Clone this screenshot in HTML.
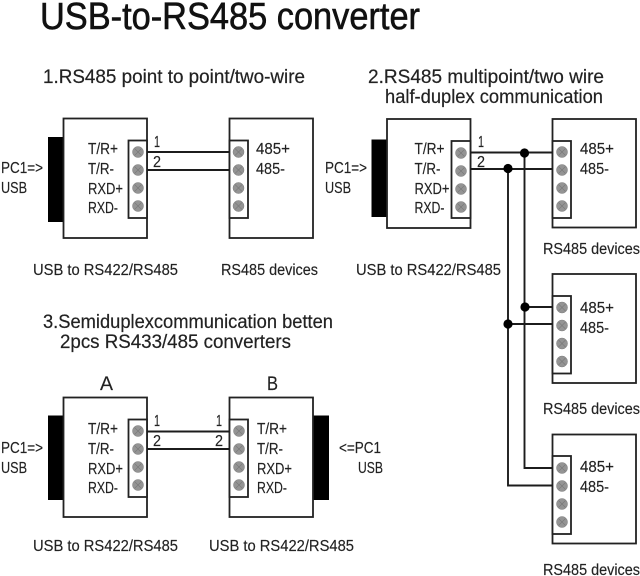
<!DOCTYPE html>
<html><head><meta charset="utf-8"><style>
html,body{margin:0;padding:0;background:#fff}
svg{display:block}
text{font-family:"Liberation Sans",sans-serif;font-size:15.5px;fill:#222;stroke:#222;stroke-width:.15}
.h{font-size:19px;stroke-width:.2}
.t{font-size:38px;fill:#111;stroke:#111;stroke-width:.6}
.b{fill:#fff;stroke:#222;stroke-width:1.8}
.w{fill:none;stroke:#1c1c1c;stroke-width:1.9}
.s{fill:#949494;stroke:#808080;stroke-width:.5}
.x{stroke:#777;stroke-width:.6}
</style></head><body>
<svg width="640" height="576" viewBox="0 0 640 576" xmlns="http://www.w3.org/2000/svg">
<defs>
<g id="sc"><circle class="s" r="5.5"/><path class="x" d="M-3.5-3.5L3.5 3.5M-3.5 3.5L3.5-3.5"/></g>
<g id="ts"><use href="#sc" y="0"/><use href="#sc" y="18"/><use href="#sc" y="36"/><use href="#sc" y="54"/></g>
</defs>
<rect width="640" height="576" fill="#fff"/>
<text class="t" x="40" y="29" textLength="380" lengthAdjust="spacingAndGlyphs">USB-to-RS485 converter</text>
<text class="h" x="43" y="83" textLength="262" lengthAdjust="spacingAndGlyphs">1.RS485 point to point/two-wire</text>
<text class="h" x="368" y="83" textLength="236" lengthAdjust="spacingAndGlyphs">2.RS485 multipoint/two wire</text>
<text class="h" x="385" y="103" textLength="218" lengthAdjust="spacingAndGlyphs">half-duplex communication</text>
<text class="h" x="43" y="328" textLength="290" lengthAdjust="spacingAndGlyphs">3.Semiduplexcommunication betten</text>
<text class="h" x="60" y="348" textLength="231" lengthAdjust="spacingAndGlyphs">2pcs RS433/485 converters</text>

<!-- Diagram 1 -->
<rect x="48" y="137" width="15.5" height="85" fill="#000"/>
<rect class="b" x="63.5" y="118.5" width="83.5" height="119.5"/>
<rect class="b" x="128.5" y="140.5" width="18.5" height="77.5"/>
<use href="#ts" x="138" y="152"/>
<rect class="b" x="229.5" y="118.5" width="83.5" height="119.5"/>
<rect class="b" x="229.5" y="140.5" width="18.5" height="77.5"/>
<use href="#ts" x="238.5" y="152"/>
<path class="w" d="M147 152H229.5M147 170H229.5"/>
<text x="1" y="173" textLength="42" lengthAdjust="spacingAndGlyphs">PC1=&gt;</text>
<text x="1" y="193" textLength="26" lengthAdjust="spacingAndGlyphs">USB</text>
<text x="88" y="154" textLength="30" lengthAdjust="spacingAndGlyphs">T/R+</text>
<text x="88" y="174" textLength="26" lengthAdjust="spacingAndGlyphs">T/R-</text>
<text x="88" y="194" textLength="35" lengthAdjust="spacingAndGlyphs">RXD+</text>
<text x="88" y="213" textLength="30" lengthAdjust="spacingAndGlyphs">RXD-</text>
<text x="154" y="147" textLength="6" lengthAdjust="spacingAndGlyphs">1</text>
<text x="153" y="167" textLength="8" lengthAdjust="spacingAndGlyphs">2</text>
<text x="256" y="154" textLength="34" lengthAdjust="spacingAndGlyphs">485+</text>
<text x="256" y="174" textLength="29" lengthAdjust="spacingAndGlyphs">485-</text>
<text x="33" y="275" textLength="145" lengthAdjust="spacingAndGlyphs">USB to RS422/RS485</text>
<text x="221" y="275" textLength="97" lengthAdjust="spacingAndGlyphs">RS485 devices</text>

<!-- Diagram 2 -->
<rect x="371.5" y="139.5" width="15.5" height="77.5" fill="#000"/>
<rect class="b" x="387" y="119" width="83.5" height="109"/>
<rect class="b" x="451.5" y="141" width="19" height="77"/>
<use href="#ts" x="461" y="153"/>
<rect class="b" x="552.5" y="119" width="83.5" height="108.5"/>
<rect class="b" x="552.5" y="141" width="18.5" height="77"/>
<use href="#ts" x="562" y="152"/>
<rect class="b" x="552.5" y="274" width="83.5" height="109"/>
<rect class="b" x="552.5" y="296" width="18.5" height="77.5"/>
<use href="#ts" x="562" y="307.5"/>
<rect class="b" x="552.5" y="434.5" width="83.5" height="109"/>
<rect class="b" x="552.5" y="456" width="18.5" height="78"/>
<use href="#ts" x="562" y="468"/>
<path class="w" d="M470.5 152.5H552.5M470.5 169H552.5M524.5 152.5V468H552.5M508 169V485.5H552.5M524.5 307H552.5M508 324H552.5"/>
<circle cx="524.5" cy="153" r="4.6" fill="#000"/>
<circle cx="508" cy="168.5" r="4.6" fill="#000"/>
<circle cx="525" cy="307" r="4.6" fill="#000"/>
<circle cx="508" cy="324" r="4.6" fill="#000"/>
<text x="325" y="173" textLength="42" lengthAdjust="spacingAndGlyphs">PC1=&gt;</text>
<text x="325" y="193" textLength="26" lengthAdjust="spacingAndGlyphs">USB</text>
<text x="414.5" y="154" textLength="30" lengthAdjust="spacingAndGlyphs">T/R+</text>
<text x="414.5" y="174" textLength="26" lengthAdjust="spacingAndGlyphs">T/R-</text>
<text x="414.5" y="194" textLength="35" lengthAdjust="spacingAndGlyphs">RXD+</text>
<text x="414.5" y="213" textLength="30" lengthAdjust="spacingAndGlyphs">RXD-</text>
<text x="478" y="147" textLength="6" lengthAdjust="spacingAndGlyphs">1</text>
<text x="477" y="167" textLength="8" lengthAdjust="spacingAndGlyphs">2</text>
<text x="580" y="154" textLength="34" lengthAdjust="spacingAndGlyphs">485+</text>
<text x="580" y="174" textLength="29" lengthAdjust="spacingAndGlyphs">485-</text>
<text x="580" y="313" textLength="34" lengthAdjust="spacingAndGlyphs">485+</text>
<text x="580" y="333" textLength="29" lengthAdjust="spacingAndGlyphs">485-</text>
<text x="580" y="472" textLength="34" lengthAdjust="spacingAndGlyphs">485+</text>
<text x="580" y="492" textLength="29" lengthAdjust="spacingAndGlyphs">485-</text>
<text x="356" y="275" textLength="145" lengthAdjust="spacingAndGlyphs">USB to RS422/RS485</text>
<text x="543" y="254" textLength="97" lengthAdjust="spacingAndGlyphs">RS485 devices</text>
<text x="543" y="414" textLength="97" lengthAdjust="spacingAndGlyphs">RS485 devices</text>
<text x="543" y="575" textLength="97" lengthAdjust="spacingAndGlyphs">RS485 devices</text>

<!-- Diagram 3 -->
<rect x="48" y="415.5" width="15.5" height="84.5" fill="#000"/>
<rect class="b" x="63.5" y="397.5" width="83.5" height="119.5"/>
<rect class="b" x="128.5" y="419.5" width="18.5" height="77.5"/>
<use href="#ts" x="138" y="431"/>
<rect x="313" y="415.5" width="16" height="84.5" fill="#000"/>
<rect class="b" x="229.5" y="397.5" width="83.5" height="119.5"/>
<rect class="b" x="229.5" y="419.5" width="18.5" height="77.5"/>
<use href="#ts" x="239" y="431"/>
<path class="w" d="M147 431.5H229.5M147 449H229.5"/>
<text x="100" y="390" style="font-size:19px" textLength="13" lengthAdjust="spacingAndGlyphs">A</text>
<text x="267" y="390" style="font-size:19px" textLength="11" lengthAdjust="spacingAndGlyphs">B</text>
<text x="1" y="453" textLength="42" lengthAdjust="spacingAndGlyphs">PC1=&gt;</text>
<text x="1" y="473" textLength="26" lengthAdjust="spacingAndGlyphs">USB</text>
<text x="88" y="434" textLength="30" lengthAdjust="spacingAndGlyphs">T/R+</text>
<text x="88" y="454" textLength="26" lengthAdjust="spacingAndGlyphs">T/R-</text>
<text x="88" y="474" textLength="35" lengthAdjust="spacingAndGlyphs">RXD+</text>
<text x="88" y="493" textLength="30" lengthAdjust="spacingAndGlyphs">RXD-</text>
<text x="154" y="426" textLength="6" lengthAdjust="spacingAndGlyphs">1</text>
<text x="153" y="446" textLength="8" lengthAdjust="spacingAndGlyphs">2</text>
<text x="216" y="426" textLength="6" lengthAdjust="spacingAndGlyphs">1</text>
<text x="215" y="446" textLength="8" lengthAdjust="spacingAndGlyphs">2</text>
<text x="257" y="434" textLength="30" lengthAdjust="spacingAndGlyphs">T/R+</text>
<text x="257" y="454" textLength="26" lengthAdjust="spacingAndGlyphs">T/R-</text>
<text x="257" y="474" textLength="35" lengthAdjust="spacingAndGlyphs">RXD+</text>
<text x="257" y="493" textLength="30" lengthAdjust="spacingAndGlyphs">RXD-</text>
<text x="339" y="453" textLength="42" lengthAdjust="spacingAndGlyphs">&lt;=PC1</text>
<text x="358" y="473" textLength="25" lengthAdjust="spacingAndGlyphs">USB</text>
<text x="33" y="551" textLength="145" lengthAdjust="spacingAndGlyphs">USB to RS422/RS485</text>
<text x="209" y="551" textLength="145" lengthAdjust="spacingAndGlyphs">USB to RS422/RS485</text>
</svg>
</body></html>
